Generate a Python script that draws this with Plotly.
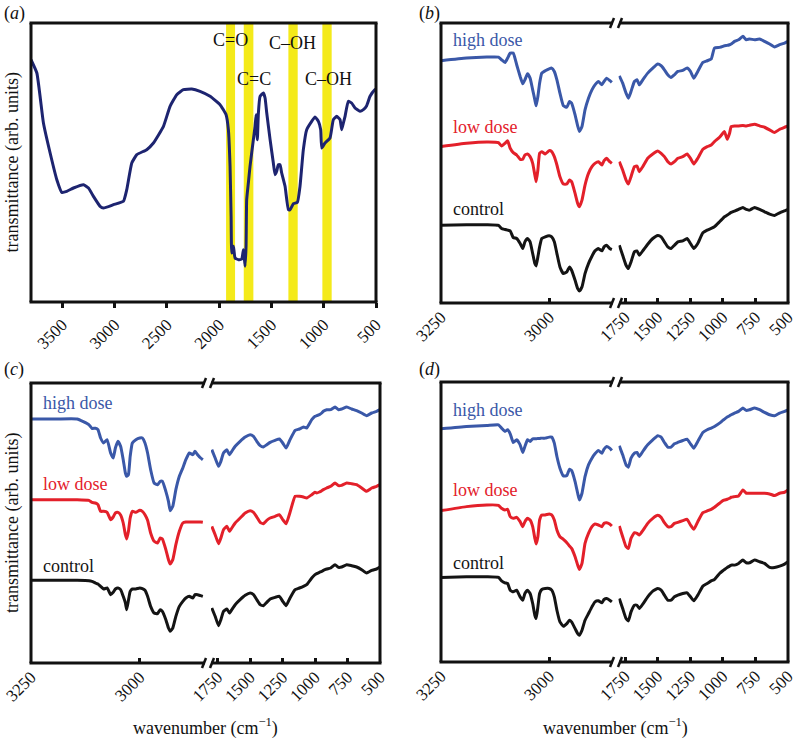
import plotly.graph_objects as go

# ---------------- data ----------------
# panel (a): FTIR spectrum (wavenumber cm-1, transmittance arb. units)
wn_a = [3800, 3744, 3681, 3617, 3553, 3505, 3458, 3394, 3298, 3250, 3203, 3139, 3107, 3011, 2916,
        2884, 2836, 2788, 2693, 2629, 2533, 2470, 2406, 2342, 2262, 2183, 2087, 1992, 1934, 1912,
        1896, 1886, 1880, 1864, 1848, 1816, 1784, 1768, 1752, 1743, 1737, 1721, 1705, 1673, 1657,
        1647, 1635, 1625, 1609, 1577, 1561, 1545, 1513, 1482, 1466, 1450, 1434, 1418, 1402, 1370,
        1338, 1322, 1290, 1252, 1227, 1195, 1163, 1115, 1083, 1051, 1029, 1019, 988, 940, 908,
        876, 844, 828, 812, 796, 765, 733, 701, 653, 621, 589, 557, 510, 500]
t_a = [72.7, 68.7, 53.7, 44.7, 36.7, 32.9, 33.2, 34.2, 35.2, 34.2, 31.7, 28.7, 28.2, 29.2, 30.2,
       33.7, 41.7, 44.2, 45.7, 47.7, 52.7, 58.7, 62.2, 63.7, 63.9, 63.2, 61.7, 59.2, 56.2, 51.7,
       40.7, 25.7, 14.7, 16.7, 13.2, 12.7, 12.9, 15.7, 10.7, 16.7, 30.7, 35.7, 40.7, 48.7, 52.7,
       56.2, 48.7, 56.7, 61.7, 62.7, 61.2, 56.7, 48.7, 41.7, 38.2, 39.2, 41.2, 41.2, 38.7, 34.7,
       27.7, 27.7, 29.5, 29.9, 34.7, 45.7, 51.7, 54.2, 55.5, 54.2, 51.7, 46.2, 47.7, 49.2, 54.7,
       55.7, 54.7, 51.7, 53.7, 55.7, 60.2, 59.7, 58.2, 57.2, 57.7, 58.9, 61.7, 63.7, 63.9]
band_labels = ["C=O", "C=C", "C\u2013OH", "C\u2013OH"]
band_lo = [1848, 1673, 1249, 924]
band_hi = [1934, 1765, 1338, 1013]
ticks_a = [3500, 3000, 2500, 2000, 1500, 1000, 500]

# panels (b)-(d): broken wavenumber axis
wn_left = [3250, 3191, 3144, 3117, 3110, 3102, 3096, 3090, 3083, 3075, 3067, 3061, 3056, 3050, 3044,
           3038, 3033, 3030, 3026, 3022, 3017, 3009, 3000, 2994, 2988, 2982, 2975, 2967, 2959, 2953,
           2948, 2940, 2934, 2930, 2924, 2917, 2909, 2901, 2894, 2886, 2878, 2873, 2867, 2860, 2855]
wn_right = [1794, 1768, 1742, 1724, 1704, 1678, 1658, 1640, 1614, 1576, 1537, 1499, 1473, 1448, 1422,
            1397, 1371, 1345, 1307, 1274, 1248, 1222, 1192, 1153, 1120, 1089, 1064, 1025, 1000, 987,
            966, 948, 936, 910, 879, 846, 820, 795, 756, 718, 680, 641, 603, 564, 526, 500]
ticks_left = [3250, 3000]
ticks_right = [1750, 1500, 1250, 1000, 750, 500]
series_names = ["high dose", "low dose", "control"]

# panel (b)
b_high_left = [72.5, 73.3, 73.6, 73.6, 72.8, 72.0, 73.3, 74.8, 74.8, 71.3, 67.8, 65.6, 66.8, 68.6, 67.3,
               63.8, 60.8, 59.0, 61.8, 65.8, 68.8, 69.5, 70.1, 70.3, 69.3, 66.8, 62.8, 59.0, 58.6, 60.3,
               59.8, 56.3, 53.0, 51.3, 52.8, 57.8, 61.3, 63.8, 65.3, 66.3, 65.3, 66.3, 67.3, 66.6, 66.0]
b_high_right = [68.0, 65.8, 62.8, 61.3, 63.3, 66.3, 66.8, 65.3, 66.8, 68.8, 70.3, 71.5, 71.0, 69.8, 68.3,
                67.5, 68.3, 69.3, 69.6, 70.3, 69.3, 67.3, 69.3, 72.0, 72.5, 73.0, 76.3, 76.5, 76.8, 77.0,
                77.1, 77.3, 77.5, 78.3, 78.8, 79.8, 78.8, 79.0, 78.8, 79.0, 78.3, 77.5, 76.6, 77.3, 77.8, 78.3]
b_low_left = [46.8, 47.8, 48.2, 48.0, 47.0, 47.8, 48.6, 46.3, 45.0, 44.3, 43.0, 43.0, 44.3, 44.6, 43.8,
              41.8, 38.3, 36.3, 39.8, 44.8, 45.3, 44.6, 45.6, 45.3, 43.8, 41.3, 37.8, 35.6, 35.6, 36.8,
              36.3, 32.8, 29.8, 28.8, 30.8, 35.3, 38.8, 40.8, 41.8, 42.3, 41.3, 42.6, 43.3, 42.3, 41.8]
b_low_right = [42.3, 39.8, 36.8, 35.6, 37.8, 40.8, 41.0, 39.3, 40.8, 43.3, 44.6, 45.5, 44.8, 43.8, 42.3,
               41.6, 42.3, 43.3, 43.8, 44.6, 43.3, 41.6, 43.3, 46.0, 46.8, 47.3, 48.3, 49.6, 50.8, 51.3,
               49.0, 50.8, 52.8, 53.0, 53.0, 53.1, 53.0, 53.2, 53.5, 53.0, 52.6, 51.8, 51.0, 52.0, 52.6, 53.0]
b_ctrl_left = [23.3, 23.4, 23.4, 23.2, 22.3, 22.0, 21.8, 21.6, 19.6, 19.3, 17.8, 16.3, 18.3, 19.3, 18.3,
               14.8, 11.8, 11.1, 13.8, 16.8, 19.3, 19.8, 20.1, 19.8, 18.3, 14.8, 10.8, 8.8, 9.3, 10.8,
               9.8, 6.8, 4.3, 3.6, 4.8, 8.8, 11.8, 14.0, 15.6, 16.3, 15.6, 16.8, 17.3, 16.3, 16.0]
b_ctrl_right = [17.3, 14.3, 11.3, 10.3, 12.3, 15.3, 15.6, 14.3, 15.6, 17.6, 19.3, 20.2, 19.8, 18.3, 16.8,
                16.3, 17.3, 18.3, 18.6, 19.3, 17.8, 16.3, 17.8, 21.0, 21.8, 22.3, 22.8, 24.3, 25.3, 25.8,
                26.3, 26.8, 27.1, 27.5, 28.0, 28.6, 28.0, 27.8, 28.6, 28.0, 27.3, 26.6, 26.2, 27.0, 27.6, 28.0]

# panel (c)
c_high_left = [73.2, 73.2, 73.2, 71.5, 70.4, 70.4, 70.0, 67.5, 66.0, 67.0, 63.0, 61.5, 64.5, 66.5, 65.0,
               61.0, 57.0, 56.0, 56.5, 62.0, 66.0, 67.0, 67.5, 67.5, 66.0, 63.0, 58.0, 54.0, 53.5, 54.5,
               54.5, 51.5, 48.5, 45.7, 47.0, 52.0, 56.0, 58.5, 61.0, 63.0, 62.5, 63.5, 62.5, 61.5, 61.0]
c_high_right = [64.0, 61.5, 59.0, 60.5, 63.0, 64.0, 62.5, 63.5, 65.0, 66.5, 67.8, 68.5, 68.0, 66.5, 65.2,
                64.8, 65.5, 66.2, 66.8, 67.2, 66.0, 64.5, 67.0, 69.8, 70.2, 70.8, 70.5, 73.0, 74.0, 74.2,
                74.5, 75.0, 75.5, 76.0, 76.0, 76.8, 76.0, 76.2, 76.8, 76.2, 75.7, 75.0, 74.2, 75.0, 75.5, 76.0]
c_low_left = [49.0, 49.0, 49.0, 48.8, 48.2, 48.0, 47.5, 45.5, 45.5, 45.2, 43.0, 43.8, 45.0, 45.2, 44.4,
              42.0, 38.5, 37.2, 39.5, 43.5, 45.5, 45.2, 45.8, 45.5, 44.5, 42.8, 39.0, 36.5, 36.0, 37.5,
              37.2, 34.0, 31.0, 29.7, 31.0, 35.5, 39.5, 42.0, 42.3, 42.3, 42.3, 42.3, 42.3, 42.3, 42.2]
c_low_right = [41.0, 38.5, 35.8, 37.5, 40.0, 41.0, 39.5, 40.5, 42.0, 43.5, 45.0, 45.7, 45.2, 43.8, 42.2,
               41.8, 42.8, 43.5, 44.0, 44.5, 43.0, 41.8, 45.2, 50.0, 50.0, 49.8, 49.5, 50.5, 51.2, 51.0,
               51.3, 51.7, 52.0, 52.5, 53.0, 54.0, 53.2, 53.3, 54.0, 53.8, 53.5, 52.5, 51.5, 52.5, 53.0, 53.5]
c_ctrl_left = [24.8, 24.8, 24.8, 24.7, 24.5, 24.0, 23.7, 23.0, 22.2, 22.5, 20.5, 21.2, 22.2, 22.5, 22.0,
               20.0, 18.0, 16.0, 18.8, 21.5, 22.2, 22.2, 22.5, 22.3, 21.8, 20.0, 17.0, 15.0, 14.8, 16.0,
               15.5, 13.0, 10.5, 9.5, 10.5, 14.0, 17.0, 18.5, 19.5, 20.0, 19.5, 20.5, 20.5, 20.2, 20.0]
c_ctrl_right = [16.5, 14.0, 11.2, 13.0, 15.5, 16.2, 15.0, 16.0, 17.5, 19.0, 20.3, 21.0, 20.5, 19.0, 17.5,
                17.2, 18.2, 19.2, 19.7, 20.0, 18.5, 17.2, 19.5, 22.0, 22.5, 23.0, 23.5, 25.5, 26.5, 26.8,
                27.2, 27.5, 27.8, 28.2, 28.5, 29.5, 28.7, 28.8, 29.5, 29.2, 28.8, 28.0, 27.0, 27.8, 28.2, 28.8]

# panel (d)
d_high_left = [69.8, 70.5, 70.8, 71.0, 70.0, 69.0, 69.5, 68.3, 65.7, 66.5, 65.0, 62.7, 64.5, 66.5, 66.0,
               66.8, 66.8, 66.8, 66.9, 66.9, 67.0, 67.0, 67.3, 67.3, 65.5, 61.5, 58.0, 55.7, 55.8, 57.7,
               57.3, 54.0, 50.5, 48.5, 50.5, 55.5, 59.0, 61.0, 62.3, 63.3, 62.5, 63.7, 64.5, 64.0, 63.3]
d_high_right = [64.7, 62.0, 59.0, 58.3, 61.0, 62.5, 62.7, 61.5, 63.0, 65.0, 66.5, 67.7, 67.3, 65.7, 64.3,
                64.3, 65.3, 65.7, 66.3, 66.7, 65.3, 64.0, 66.0, 68.7, 69.5, 70.0, 70.5, 71.5, 72.3, 72.7,
                73.3, 73.7, 74.0, 74.5, 75.0, 76.0, 75.3, 75.5, 76.0, 75.5, 74.7, 74.0, 73.7, 74.5, 75.0, 75.5]
d_low_left = [45.3, 46.5, 47.0, 46.9, 46.0, 45.5, 45.7, 43.5, 43.0, 43.3, 42.0, 40.5, 42.0, 43.0, 42.5,
              40.5, 37.0, 35.3, 37.5, 42.5, 44.0, 44.0, 44.3, 44.0, 42.5, 39.5, 37.5, 36.7, 35.7, 34.7,
              34.0, 31.5, 29.0, 27.7, 29.5, 35.5, 38.5, 40.5, 41.3, 41.0, 40.5, 41.5, 41.7, 41.3, 40.7]
d_low_right = [40.7, 37.5, 34.5, 34.0, 37.0, 38.7, 38.5, 38.0, 39.3, 41.5, 43.0, 43.9, 43.3, 41.7, 40.5,
               40.5, 41.5, 41.8, 42.3, 42.7, 41.0, 39.7, 42.0, 44.7, 45.2, 45.7, 46.3, 47.5, 48.3, 48.5,
               48.7, 49.0, 49.3, 49.5, 49.7, 51.5, 50.5, 50.5, 50.5, 50.5, 50.5, 50.3, 49.8, 50.5, 50.8, 51.5]
d_ctrl_left = [25.3, 25.5, 25.5, 25.3, 24.3, 23.7, 23.5, 21.5, 21.0, 21.5, 19.5, 18.5, 20.5, 21.5, 20.5,
               17.5, 14.0, 13.0, 16.5, 20.5, 21.7, 22.0, 22.0, 21.5, 19.5, 15.5, 12.0, 10.7, 11.5, 12.5,
               12.0, 10.0, 8.5, 8.0, 9.5, 12.5, 14.5, 16.5, 18.0, 18.3, 17.7, 18.7, 19.0, 18.5, 18.0]
d_ctrl_right = [19.0, 16.0, 13.0, 12.3, 15.0, 17.0, 17.0, 16.0, 17.3, 19.5, 21.2, 22.0, 21.5, 20.0, 18.5,
                18.5, 19.5, 20.0, 20.5, 20.7, 19.5, 18.3, 20.0, 22.7, 23.5, 24.3, 24.7, 26.5, 27.3, 27.7,
                28.3, 28.7, 29.0, 29.0, 29.5, 30.5, 29.7, 29.7, 30.5, 30.0, 29.5, 28.3, 28.3, 28.7, 29.3, 30.0]

# ---------------- styling / layout ----------------
W, H = 798, 738
FONT = "Liberation Serif, Times New Roman, serif"
NAVY = "#1d2470"
COLORS = ["#3a58a8", "#e3202a", "#141414"]
YELLOW = "#f4ea1a"
LW = 3


def px(x):
    return x / W


def py(y):
    return 1 - y / H


fig = go.Figure()
shapes = []
annotations = []


def seg(x0, y0, x1, y1, w=3):
    shapes.append(dict(type="line", xref="paper", yref="paper",
                       x0=px(x0), y0=py(y0), x1=px(x1), y1=py(y1),
                       line=dict(color="#111111", width=w)))


def text(x, y, s, size=18, color="#111111", xanchor="center", yanchor="middle", angle=0):
    annotations.append(dict(x=px(x), y=py(y), xref="paper", yref="paper", text=s, showarrow=False,
                            font=dict(family=FONT, size=size, color=color),
                            xanchor=xanchor, yanchor=yanchor, textangle=angle))


def xaxis_style(domain, rng, tickvals, anchor, ticks="inside"):
    return dict(domain=[px(domain[0]), px(domain[1])], range=rng, anchor=anchor,
                tickmode="array", tickvals=tickvals, ticktext=[str(v) for v in tickvals],
                ticks=ticks, ticklen=5, tickwidth=2.5, tickcolor="#111111",
                tickangle=-45, tickfont=dict(family=FONT, size=17, color="#111111"),
                showline=False, showgrid=False, zeroline=False, automargin=False, fixedrange=True)


def yaxis_style(top, bottom, rng, anchor):
    return dict(domain=[py(bottom), py(top)], range=rng, anchor=anchor,
                showline=False, showgrid=False, zeroline=False, showticklabels=False,
                ticks="", automargin=False, fixedrange=True)


# ----- panel (a)
A = dict(x0=31, x1=376, y0=23, y1=302)
fig.add_trace(go.Scatter(x=wn_a, y=t_a, mode="lines", xaxis="x", yaxis="y",
                         line=dict(color=NAVY, width=LW, shape="spline", smoothing=0.4),
                         showlegend=False, hoverinfo="skip"))
layout_axes = {
    "xaxis": xaxis_style((A["x0"], A["x1"]), [3800, 500], ticks_a, "y", ticks="outside"),
    "yaxis": yaxis_style(A["y0"], A["y1"], [0, 83.7], "x"),
}
for lo, hi in zip(band_lo, band_hi):
    shapes.append(dict(type="rect", xref="x", yref="y domain", x0=lo, x1=hi, y0=0, y1=1,
                       fillcolor=YELLOW, line=dict(width=0), layer="below"))
seg(A["x0"] - 1.5, A["y0"], A["x1"] + 1.5, A["y0"])
seg(A["x0"] - 1.5, A["y1"], A["x1"] + 1.5, A["y1"])
seg(A["x0"], A["y0"], A["x0"], A["y1"])
seg(A["x1"], A["y0"], A["x1"], A["y1"])
text(14, 13, "(<i>a</i>)")
text(230, 40, band_labels[0])
text(254, 79, band_labels[1])
text(292.5, 43, band_labels[2])
text(328, 79, band_labels[3])
text(12, 162.5, "transmittance (arb. units)", angle=-90)

# ----- panels (b)-(d)
panels = [
    dict(name="b", x0=441, xl=614, xr=618.5, x1=788, y0=23, y1=303, brk=616, yr=[0, 83.8],
         label=(429, 13), leg_x=451, leg_y=[40, 127, 209],
         data=[(b_high_left, b_high_right), (b_low_left, b_low_right), (b_ctrl_left, b_ctrl_right)]),
    dict(name="c", x0=31, xl=205, xr=211, x1=380, y0=383, y1=663, brk=208, yr=[0, 84.0],
         label=(14, 370), leg_x=41, leg_y=[403, 484, 566],
         data=[(c_high_left, c_high_right), (c_low_left, c_low_right), (c_ctrl_left, c_ctrl_right)]),
    dict(name="d", x0=441, xl=614, xr=618.5, x1=788, y0=382, y1=662, brk=616, yr=[0, 83.8],
         label=(429, 370), leg_x=451, leg_y=[410, 490, 563],
         data=[(d_high_left, d_high_right), (d_low_left, d_low_right), (d_ctrl_left, d_ctrl_right)]),
]

for i, P in enumerate(panels):
    yi = i + 2
    xl_i = 2 * i + 2
    xr_i = 2 * i + 3
    ya = f"y{yi}"
    xla = f"x{xl_i}"
    xra = f"x{xr_i}"
    layout_axes[f"yaxis{yi}"] = yaxis_style(P["y0"], P["y1"], P["yr"], xla)
    layout_axes[f"xaxis{xl_i}"] = xaxis_style((P["x0"], P["xl"]), [3250, 2850], ticks_left, ya)
    layout_axes[f"xaxis{xr_i}"] = xaxis_style((P["xr"], P["x1"]), [1800, 500], ticks_right, ya)
    for (left, right), col in zip(P["data"], COLORS):
        fig.add_trace(go.Scatter(x=wn_left, y=left, mode="lines", xaxis=xla, yaxis=ya,
                                 line=dict(color=col, width=LW, shape="spline", smoothing=0.4),
                                 showlegend=False, hoverinfo="skip"))
        fig.add_trace(go.Scatter(x=wn_right, y=right, mode="lines", xaxis=xra, yaxis=ya,
                                 line=dict(color=col, width=LW, shape="spline", smoothing=0.4),
                                 showlegend=False, hoverinfo="skip"))
    # frame with axis-break marks
    c = P["brk"]
    for yy in (P["y0"], P["y1"]):
        seg(P["x0"] - 1.5, yy, c - 3, yy)
        seg(c + 3, yy, P["x1"] + 1.5, yy)
        seg(c - 6, yy + 5, c - 2, yy - 5, w=2.5)
        seg(c + 2, yy + 5, c + 6, yy - 5, w=2.5)
    seg(P["x0"], P["y0"], P["x0"], P["y1"])
    seg(P["x1"], P["y0"], P["x1"], P["y1"])
    text(P["label"][0], P["label"][1], f"(<i>{P['name']}</i>)")
    for name, col, ly in zip(series_names, COLORS, P["leg_y"]):
        text(P["leg_x"], ly, name, color=col, xanchor="left")

text(12, 523, "transmittance (arb. units)", angle=-90)
text(205, 727, "wavenumber (cm<sup>\u22121</sup>)")
text(615, 727, "wavenumber (cm<sup>\u22121</sup>)")

fig.update_layout(
    width=W, height=H,
    margin=dict(l=0, r=0, t=0, b=0, pad=0),
    paper_bgcolor="white", plot_bgcolor="rgba(0,0,0,0)",
    showlegend=False,
    shapes=shapes, annotations=annotations,
    **layout_axes,
)

fig.write_html("out.html", config={"displayModeBar": False},
               post_script="document.body.style.margin='0';document.body.style.padding='0';"
                           "document.body.style.overflow='hidden';")
